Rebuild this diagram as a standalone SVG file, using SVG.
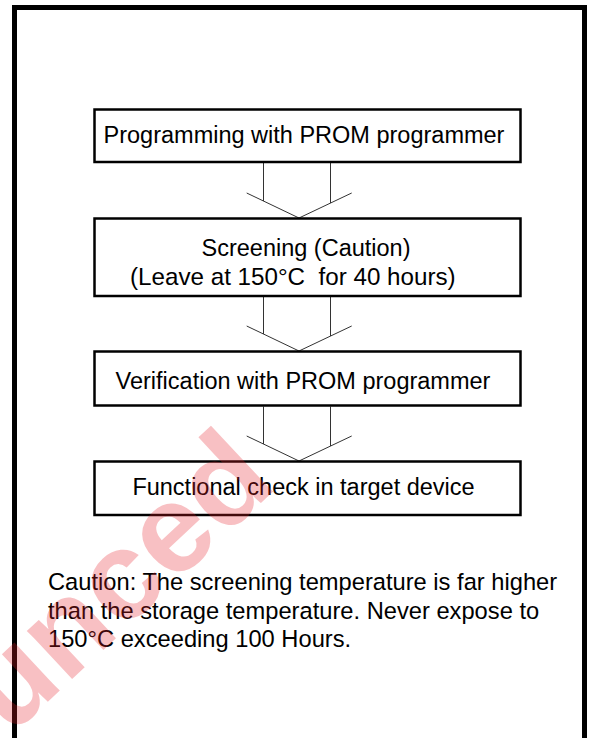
<svg xmlns="http://www.w3.org/2000/svg" width="590" height="738" viewBox="0 0 590 738">
<style>
.box{fill:#fff;stroke:#000;stroke-width:2.5}
.t{font-family:"Liberation Sans",Arial,sans-serif;font-size:23.5px;fill:#000;white-space:pre}
.cau{font-size:23.7px}
.c{stroke:#333;stroke-width:1;fill:none}
.wm{font-family:"Liberation Sans",Arial,sans-serif;font-weight:bold;font-size:125px;fill:#e8202a;opacity:0.28}
</style>
<rect width="590" height="738" fill="#fff"/>
<rect x="14.5" y="7.5" width="570" height="800" fill="none" stroke="#000" stroke-width="5"/>
<g id="connectors">
<path class="c" d="M263.5 163V201M330.5 163V203M246.7 193L299 218L351.7 193"/>
<path class="c" d="M263.5 297V334M330.5 297V336M246.7 326L299 351L351.7 326"/>
<path class="c" d="M263.5 406.5V444M330.5 406.5V446M246.7 436L299 461L351.7 436"/>
</g>
<g id="n1">
<rect class="box" x="94.5" y="109.5" width="426" height="52.5"/>
<text class="t" x="304" y="143" text-anchor="middle">Programming with PROM programmer</text>
</g>
<g id="n2">
<rect class="box" x="94.5" y="218.5" width="426" height="77.5"/>
<text class="t" x="306" y="255.5" text-anchor="middle">Screening (Caution)</text>
<text class="t" x="130" y="285" style="font-size:24.2px">(Leave at 150°C  for 40 hours)</text>
</g>
<g id="n3">
<rect class="box" x="94.5" y="351.5" width="426" height="54"/>
<text class="t" x="303" y="388.5" text-anchor="middle">Verification with PROM programmer</text>
</g>
<g id="n4">
<rect class="box" x="94.5" y="461.5" width="426" height="53.5"/>
<text class="t" x="303.5" y="495" text-anchor="middle">Functional check in target device</text>
</g>
<g id="caution">
<text class="t cau" x="48" y="590">Caution: The screening temperature is far higher</text>
<text class="t cau" x="48" y="618.5">than the storage temperature. Never expose to</text>
<text class="t cau" x="48" y="647">150°C exceeding 100 Hours.</text>
</g>
<text class="wm" transform="translate(10,737) rotate(-43)">unced</text>
</svg>
